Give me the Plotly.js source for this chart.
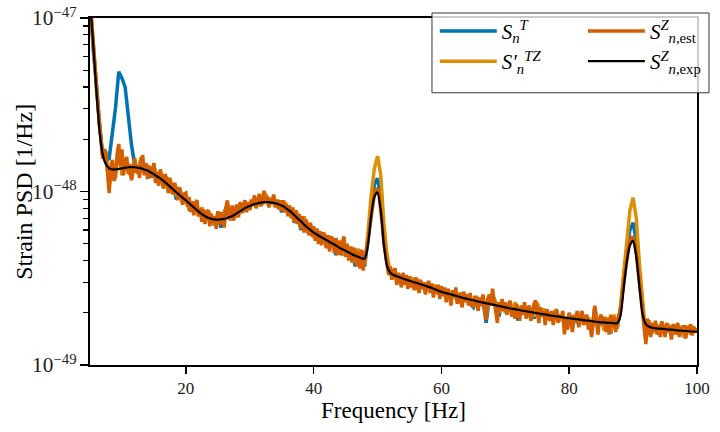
<!DOCTYPE html>
<html>
<head>
<meta charset="utf-8">
<script src="https://cdn.plot.ly/plotly-3.0.1.min.js"></script>
<style>html,body{margin:0;padding:0;background:#fff}</style>
</head>
<body>
<div id="chart" style="width:720px;height:432px"></div>
<script>
// frequency grids of the spectra: 5 Hz .. 100 Hz
const F_START = 5;
const F_STEP = 0.5;       // sT, sTZ, sZexp
const F_STEP_FINE = 0.25; // sZest
// all PSD values below are in units of 1e-49 1/Hz
const PSD_UNIT = 1e-49;

// S_n^T  (every 0.5 Hz)
const sT = [
  128, 66, 42, 24, 16, 15.0, 15.5, 21.5, 30.6, 49,
  45, 40, 27, 18.5, 14.2, 13.2, 15.4, 12.8, 14.2, 12.0,
  14.2, 11.4, 12.8, 10.6, 12.0, 9.9, 11.0, 9.0, 10.2, 8.6,
  9.3, 7.9, 7.9, 8.5, 7.3, 7.9, 6.7, 7.5, 6.8, 6.4,
  7.2, 6.2, 7.6, 8.4, 6.8, 7.7, 7.2, 8.3, 7.7, 8.5,
  8.0, 8.9, 8.2, 9.3, 8.5, 9.6, 8.3, 9.1, 8.2, 8.7,
  7.6, 8.6, 7.4, 7.9, 6.6, 7.4, 6.0, 7.0, 5.9, 6.4,
  5.5, 6.0, 5.0, 5.7, 4.8, 5.4, 5.1, 4.3, 5.1, 4.3,
  4.8, 4.2, 4.7, 3.7, 4.6, 4.4, 3.7, 5.4, 8.0, 11.0,
  11.9, 9.2, 5.4, 4.0, 3.3, 3.5, 3.1, 3.3, 3.0, 3.2,
  2.9, 3.15, 2.75, 3.0, 2.9, 2.65, 2.95, 2.7, 2.85, 2.55,
  2.75, 2.5, 2.7, 2.45, 2.6, 2.3, 2.6, 2.35, 2.5, 2.25,
  2.15, 2.45, 2.2, 2.35, 1.75, 2.4, 2.5, 2.3, 1.9, 2.3,
  2.05, 2.2, 2.0, 2.25, 1.8, 2.15, 2.05, 1.9, 2.1, 1.85,
  2.25, 2.0, 2.1, 1.85, 2.0, 1.8, 2.05, 1.8, 1.9, 1.6,
  1.95, 1.65, 1.9, 1.7, 2.0, 1.72, 1.85, 1.52, 2.1, 1.65,
  1.9, 1.6, 1.85, 1.52, 1.92, 1.62, 2.1, 3.1, 4.6, 6.0,
  6.6, 5.2, 3.3, 2.1, 1.4, 1.8, 1.55, 1.72, 1.5, 1.75,
  1.52, 1.7, 1.48, 1.68, 1.58, 1.64, 1.45, 1.66, 1.52, 1.62,
  1.58
];

// S'_n^TZ  (every 0.5 Hz)
const sTZ = [
  127, 67, 41, 23.5, 16, 16.2, 10.5, 14.8, 12.8, 17.5,
  12.4, 15.2, 13.2, 12.0, 14.8, 12.6, 15.8, 12.8, 14.2, 12.5,
  14.4, 11.2, 13.0, 10.5, 12.1, 9.8, 11.2, 9.4, 10.4, 8.5,
  9.4, 8.0, 7.8, 8.6, 7.2, 8.1, 6.7, 7.7, 7.3, 6.4,
  7.5, 6.6, 7.4, 8.6, 6.8, 7.9, 7.1, 8.4, 7.6, 8.6,
  7.9, 9.0, 8.1, 9.4, 8.4, 9.7, 8.2, 9.2, 8.1, 8.9,
  7.8, 8.7, 7.3, 8.0, 6.9, 7.5, 6.3, 7.2, 5.8, 6.5,
  5.4, 6.1, 5.2, 5.8, 4.8, 5.5, 5.2, 4.5, 5.2, 4.3,
  4.9, 4.2, 4.8, 3.9, 4.6, 4.5, 3.8, 5.8, 9.5, 13.5,
  16.0, 12.5, 6.5, 4.3, 3.4, 3.5, 3.1, 3.3, 3.0, 3.2,
  2.9, 3.2, 2.75, 3.05, 2.9, 2.65, 3.0, 2.7, 2.9, 2.55,
  2.8, 2.5, 2.7, 2.45, 2.65, 2.3, 2.6, 2.35, 2.55, 2.25,
  2.2, 2.5, 2.2, 2.4, 1.9, 2.45, 2.5, 2.3, 2.0, 2.3,
  2.0, 2.25, 2.0, 2.3, 1.9, 2.15, 2.1, 1.9, 2.1, 1.9,
  2.28, 2.0, 2.1, 1.85, 2.0, 1.85, 2.05, 1.8, 1.92, 1.6,
  1.98, 1.65, 1.92, 1.75, 2.0, 1.72, 1.88, 1.52, 2.15, 1.7,
  1.92, 1.58, 1.88, 1.55, 1.95, 1.62, 2.1, 3.3, 5.2, 7.8,
  9.2, 7.0, 3.8, 2.2, 1.45, 1.8, 1.52, 1.75, 1.55, 1.78,
  1.5, 1.72, 1.47, 1.7, 1.56, 1.66, 1.44, 1.68, 1.5, 1.64,
  1.58
];

// S^Z_n,est  (every 0.25 Hz)
const sZest = [
  130, 92, 68, 55, 40, 30, 24, 19.5, 15.5, 17.5, 16.8, 12.5, 9.8, 14.0, 15.2, 11.5, 12.2, 16.5, 18.8, 14.0,
  17.5, 12.4, 14.8, 15.8, 12.6, 14.4, 11.6, 13.2, 15.6, 12.8, 14.2, 12.0, 15.0, 16.2, 12.4, 14.6, 11.8, 14.0, 13.4, 12.0,
  14.6, 11.2, 13.0, 10.8, 13.4, 12.2, 10.4, 12.6, 11.8, 9.8, 12.0, 10.9, 9.6, 11.2, 10.4, 8.9, 10.6, 9.8, 8.4, 9.7,
  9.8, 8.2, 9.3, 7.6, 8.8, 7.3, 8.6, 8.9, 7.2, 8.0, 6.7, 7.9, 6.5, 7.6, 7.8, 6.3, 7.4, 6.6, 7.2, 6.1,
  7.7, 6.4, 7.6, 6.9, 6.2, 7.9, 8.9, 6.9, 7.6, 8.3, 6.8, 7.9, 8.4, 7.1, 8.7, 7.5, 8.3, 8.9, 7.6, 8.7,
  7.8, 9.0, 8.4, 9.5, 8.0, 8.9, 9.7, 8.2, 9.3, 10.1, 8.6, 9.4, 8.1, 9.2, 8.7, 9.6, 8.2, 9.0, 7.9, 8.9,
  7.7, 8.9, 7.6, 8.5, 7.2, 8.3, 7.0, 8.1, 6.6, 7.8, 6.5, 7.4, 6.1, 7.2, 5.8, 6.9, 6.5, 5.6, 6.6, 5.5,
  6.3, 5.2, 6.1, 5.0, 5.9, 4.9, 5.8, 5.6, 4.7, 5.6, 4.5, 5.5, 5.3, 4.4, 5.4, 4.3, 5.2, 4.3, 5.1, 5.5,
  4.2, 5.0, 4.0, 4.8, 3.9, 4.7, 4.6, 3.7, 4.5, 3.6, 4.6, 3.5, 4.4, 4.6, 5.2, 6.1, 7.4, 8.6, 9.6, 10.2,
  10.4, 9.4, 8.0, 6.4, 5.0, 4.3, 3.9, 3.3, 3.7, 3.1, 3.5, 3.6, 2.9, 3.4, 3.1, 2.8, 3.4, 2.9, 3.3, 2.75,
  3.25, 2.8, 3.1, 2.7, 3.2, 2.85, 2.6, 3.1, 2.75, 3.0, 2.55, 2.9, 3.05, 2.6, 2.95, 2.45, 2.85, 2.6, 2.9, 2.4,
  2.85, 2.5, 2.8, 2.3, 2.75, 2.55, 2.2, 2.7, 2.45, 2.8, 2.25, 2.6, 2.35, 2.15, 2.65, 2.3, 2.55, 2.2, 2.6, 2.25,
  2.15, 2.5, 2.3, 2.05, 2.45, 2.2, 2.55, 2.1, 1.82, 2.4, 2.55, 2.2, 2.75, 2.35, 2.0, 1.75, 2.3, 2.1, 2.4, 2.05,
  2.3, 1.95, 2.2, 2.35, 1.9, 2.15, 1.85, 2.25, 2.1, 1.8, 2.2, 1.95, 2.3, 1.85, 2.1, 2.2, 1.8, 2.05, 2.25, 2.35,
  2.05, 1.75, 2.15, 1.9, 2.05, 1.7, 2.1, 1.95, 1.8, 2.05, 1.7, 2.0, 2.1, 1.75, 1.95, 1.85, 2.05, 1.5, 1.9, 1.6,
  2.0, 1.85, 1.55, 1.95, 1.8, 2.05, 1.65, 1.9, 2.05, 1.7, 1.85, 1.95, 1.6, 1.75, 1.45, 1.9, 2.2, 1.8, 1.5, 1.85,
  1.95, 1.7, 1.9, 1.55, 1.85, 1.5, 1.95, 1.65, 1.9, 1.55, 1.8, 1.95, 2.05, 2.35, 2.9, 3.4, 4.1, 4.6, 5.1, 5.4,
  5.5, 5.0, 4.4, 3.6, 2.95, 2.35, 2.0, 1.65, 1.32, 1.85, 1.6, 1.45, 1.75, 1.55, 1.8, 1.5, 1.7, 1.45, 1.78, 1.6,
  1.45, 1.75, 1.55, 1.68, 1.4, 1.72, 1.6, 1.5, 1.75, 1.45, 1.65, 1.55, 1.7, 1.42, 1.68, 1.55, 1.72, 1.48, 1.65, 1.58,
  1.6
];

// S^Z_n,exp  (smooth model, every 0.5 Hz)
const sZexp = [
  125, 71, 38, 22.2, 16.3, 14.3, 13.6, 13.4, 13.4, 13.5,
  13.6, 13.7, 13.8, 13.8, 13.8, 13.7, 13.6, 13.4, 13.2, 12.9,
  12.6, 12.2, 11.9, 11.5, 11.1, 10.7, 10.3, 9.9, 9.55, 9.2,
  8.9, 8.55, 8.25, 7.95, 7.65, 7.4, 7.2, 7.05, 6.95, 6.9,
  6.88, 6.9, 6.95, 7.05, 7.15, 7.3, 7.5, 7.7, 7.9, 8.1,
  8.25, 8.4, 8.5, 8.6, 8.65, 8.68, 8.68, 8.62, 8.55, 8.45,
  8.3, 8.1, 7.85, 7.6, 7.3, 7.0, 6.75, 6.45, 6.2, 6.0,
  5.8, 5.65, 5.5, 5.38, 5.25, 5.12, 5.0, 4.88, 4.75, 4.65,
  4.55, 4.45, 4.35, 4.27, 4.2, 4.12, 4.1, 4.9, 7.2, 9.3,
  9.9, 7.8, 4.9, 3.7, 3.4, 3.3, 3.25, 3.2, 3.15, 3.1,
  3.06, 3.02, 2.98, 2.94, 2.9, 2.86, 2.82, 2.78, 2.73, 2.68,
  2.64, 2.61, 2.58, 2.55, 2.52, 2.49, 2.46, 2.43, 2.41, 2.38,
  2.36, 2.33, 2.31, 2.29, 2.27, 2.25, 2.23, 2.21, 2.19, 2.17,
  2.15, 2.13, 2.11, 2.1, 2.08, 2.06, 2.05, 2.03, 2.02, 2.0,
  1.99, 1.97, 1.96, 1.95, 1.93, 1.92, 1.91, 1.9, 1.88, 1.87,
  1.86, 1.85, 1.84, 1.83, 1.82, 1.81, 1.8, 1.79, 1.78, 1.77,
  1.76, 1.76, 1.75, 1.75, 1.74, 1.74, 1.9, 2.7, 3.9, 4.9,
  5.2, 4.2, 2.8, 1.95, 1.72, 1.66, 1.64, 1.63, 1.62, 1.62,
  1.61, 1.6, 1.6, 1.59, 1.58, 1.58, 1.57, 1.57, 1.56, 1.56,
  1.55
];

const grid = (arr, step) => arr.map((_, i) => F_START + i * step);
const toPSD = arr => arr.map(v => v * PSD_UNIT);

const traces = [
  {x: grid(sT, F_STEP), y: toPSD(sT), mode: 'lines', name: '<i>S</i><sub><i>n</i></sub><sup><i>T</i></sup>',
   line: {color: '#0173B2', width: 3.5}, legend: 'legend'},
  {x: grid(sTZ, F_STEP), y: toPSD(sTZ), mode: 'lines', name: '<i>S′</i><sub><i>n</i></sub><sup><i>TZ</i></sup>',
   line: {color: '#DE8F05', width: 3.5}, legend: 'legend'},
  {x: grid(sZest, F_STEP_FINE), y: toPSD(sZest), mode: 'lines', name: '<i>S</i><sup><i>Z</i></sup><sub><i>n</i>,est</sub>',
   line: {color: '#D55E00', width: 3.5}, legend: 'legend2'},
  {x: grid(sZexp, F_STEP), y: toPSD(sZexp), mode: 'lines', name: '<i>S</i><sup><i>Z</i></sup><sub><i>n</i>,exp</sub>',
   line: {color: '#000000', width: 2.2, shape: 'spline', smoothing: 0.7}, legend: 'legend2'}
];

const layout = {
  width: 720,
  height: 432,
  margin: {l: 90, r: 23, t: 17, b: 67},
  paper_bgcolor: '#fff',
  plot_bgcolor: '#fff',
  font: {family: 'Liberation Serif, serif', size: 17, color: '#000'},
  showlegend: true,
  xaxis: {
    range: [5, 100],
    tickvals: [20, 40, 60, 80, 100],
    ticks: 'outside', ticklen: 7, tickwidth: 1.5, tickcolor: '#000',
    showline: true, linewidth: 2, linecolor: '#000', mirror: true,
    showgrid: false, zeroline: false,
    tickfont: {size: 17, color: '#222'},
    title: {text: 'Frequency [Hz]', font: {size: 23}, standoff: 4}
  },
  yaxis: {
    type: 'log',
    range: [-49, -47],
    dtick: 1,
    exponentformat: 'power',
    ticks: 'outside', ticklen: 8, tickwidth: 1.5, tickcolor: '#000',
    minor: {ticks: 'outside', ticklen: 5, tickwidth: 1.2, tickcolor: '#000', dtick: 'D1', showgrid: false},
    showline: true, linewidth: 2, linecolor: '#000', mirror: true,
    showgrid: false, zeroline: false,
    tickfont: {size: 17, color: '#222'}
  },
  annotations: [{
    text: 'Strain PSD [1/Hz]', textangle: -90,
    xref: 'paper', yref: 'paper', x: -0.11, y: 0.5,
    xanchor: 'center', yanchor: 'middle', showarrow: false,
    font: {size: 24}
  }],
  legend: {
    x: 0.568, y: 1.018, xanchor: 'left', yanchor: 'top',
    bgcolor: 'rgba(0,0,0,0)', borderwidth: 0,
    font: {size: 21}, itemwidth: 57, tracegroupgap: 0
  },
  legend2: {
    x: 0.812, y: 1.018, xanchor: 'left', yanchor: 'top',
    bgcolor: 'rgba(0,0,0,0)', borderwidth: 0,
    font: {size: 21}, itemwidth: 57, tracegroupgap: 0
  },
  shapes: [{
    type: 'rect', xref: 'paper', yref: 'paper',
    x0: 0.5634, x1: 1.0198, y0: 0.7845, y1: 1.0144,
    fillcolor: 'rgba(255,255,255,0.8)',
    line: {color: '#333', width: 1},
    layer: 'above'
  }]
};

Plotly.newPlot('chart', traces, layout, {displayModeBar: false, staticPlot: true});
</script>
</body>
</html>
